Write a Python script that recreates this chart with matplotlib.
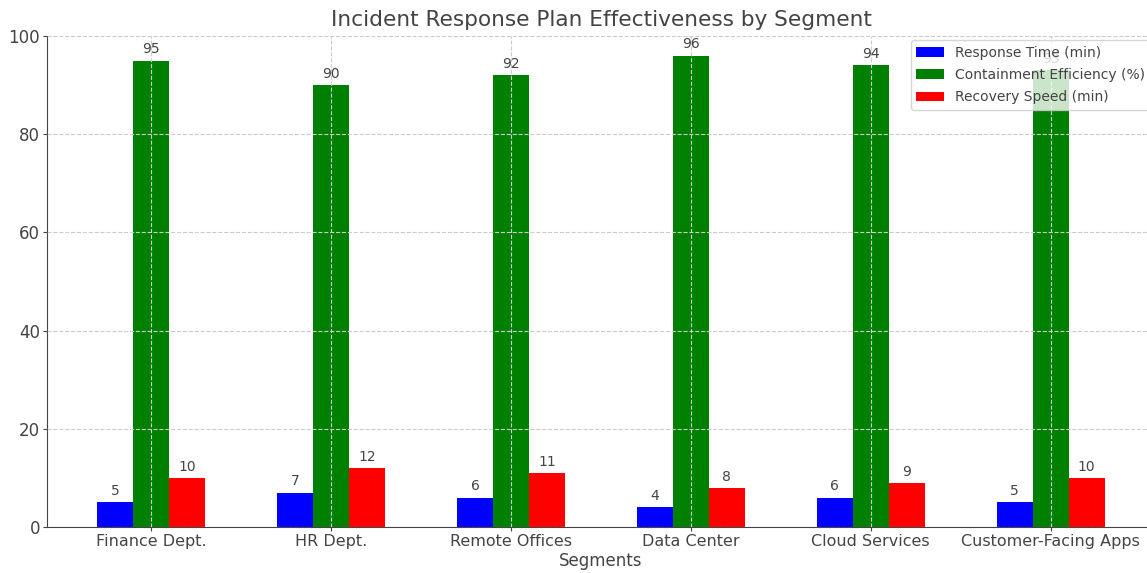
import matplotlib
matplotlib.use("Agg")
import matplotlib.pyplot as plt
import numpy as np

segments = ["Finance Dept.", "HR Dept.", "Remote Offices", "Data Center",
            "Cloud Services", "Customer-Facing Apps"]
response_time = [5, 7, 6, 4, 6, 5]
containment_eff = [95, 90, 92, 96, 94, 93]
recovery_speed = [10, 12, 11, 8, 9, 10]

series = [
    ("Response Time (min)", response_time, "blue"),
    ("Containment Efficiency (%)", containment_eff, "green"),
    ("Recovery Speed (min)", recovery_speed, "red"),
]

text_color = "#444444"
plt.rcParams["font.family"] = "DejaVu Sans"

fig = plt.figure(figsize=(11.47, 5.73), dpi=100)
ax = fig.add_axes([47 / 1147, 46 / 573, 1108 / 1147, 491 / 573])

x = np.arange(len(segments))
width = 0.2
for i, (label, vals, color) in enumerate(series):
    bars = ax.bar(x + (i - 1) * width, vals, width, label=label, color=color, zorder=2)
    for b, v in zip(bars, vals):
        ax.annotate(f"{v}", (b.get_x() + b.get_width() / 2, b.get_height()),
                    xytext=(0, 3), textcoords="offset points",
                    ha="center", va="bottom", fontsize=10, color=text_color)

ax.set_xticks(x)
ax.set_xticklabels(segments, fontsize=11.5, color=text_color)
ax.tick_params(axis="y", labelsize=12, labelcolor=text_color)
ax.tick_params(colors=text_color, length=3, pad=2)
ax.set_xlabel("Segments", fontsize=12, color=text_color, labelpad=2)
ax.set_title("Incident Response Plan Effectiveness by Segment", fontsize=15.6,
             color=text_color, pad=7)
ax.set_ylim(0, 100)

ax.grid(True, linestyle="--", color="#cccccc", linewidth=0.8, zorder=0)
ax.set_axisbelow(False)
for side in ("top", "right"):
    ax.spines[side].set_visible(False)
for side in ("left", "bottom"):
    ax.spines[side].set_color(text_color)

leg = ax.legend(loc="upper right", fontsize=10, borderaxespad=0.3,
                labelspacing=0.6)
for t in leg.get_texts():
    t.set_color(text_color)

fig.savefig("out.png", dpi=100)
